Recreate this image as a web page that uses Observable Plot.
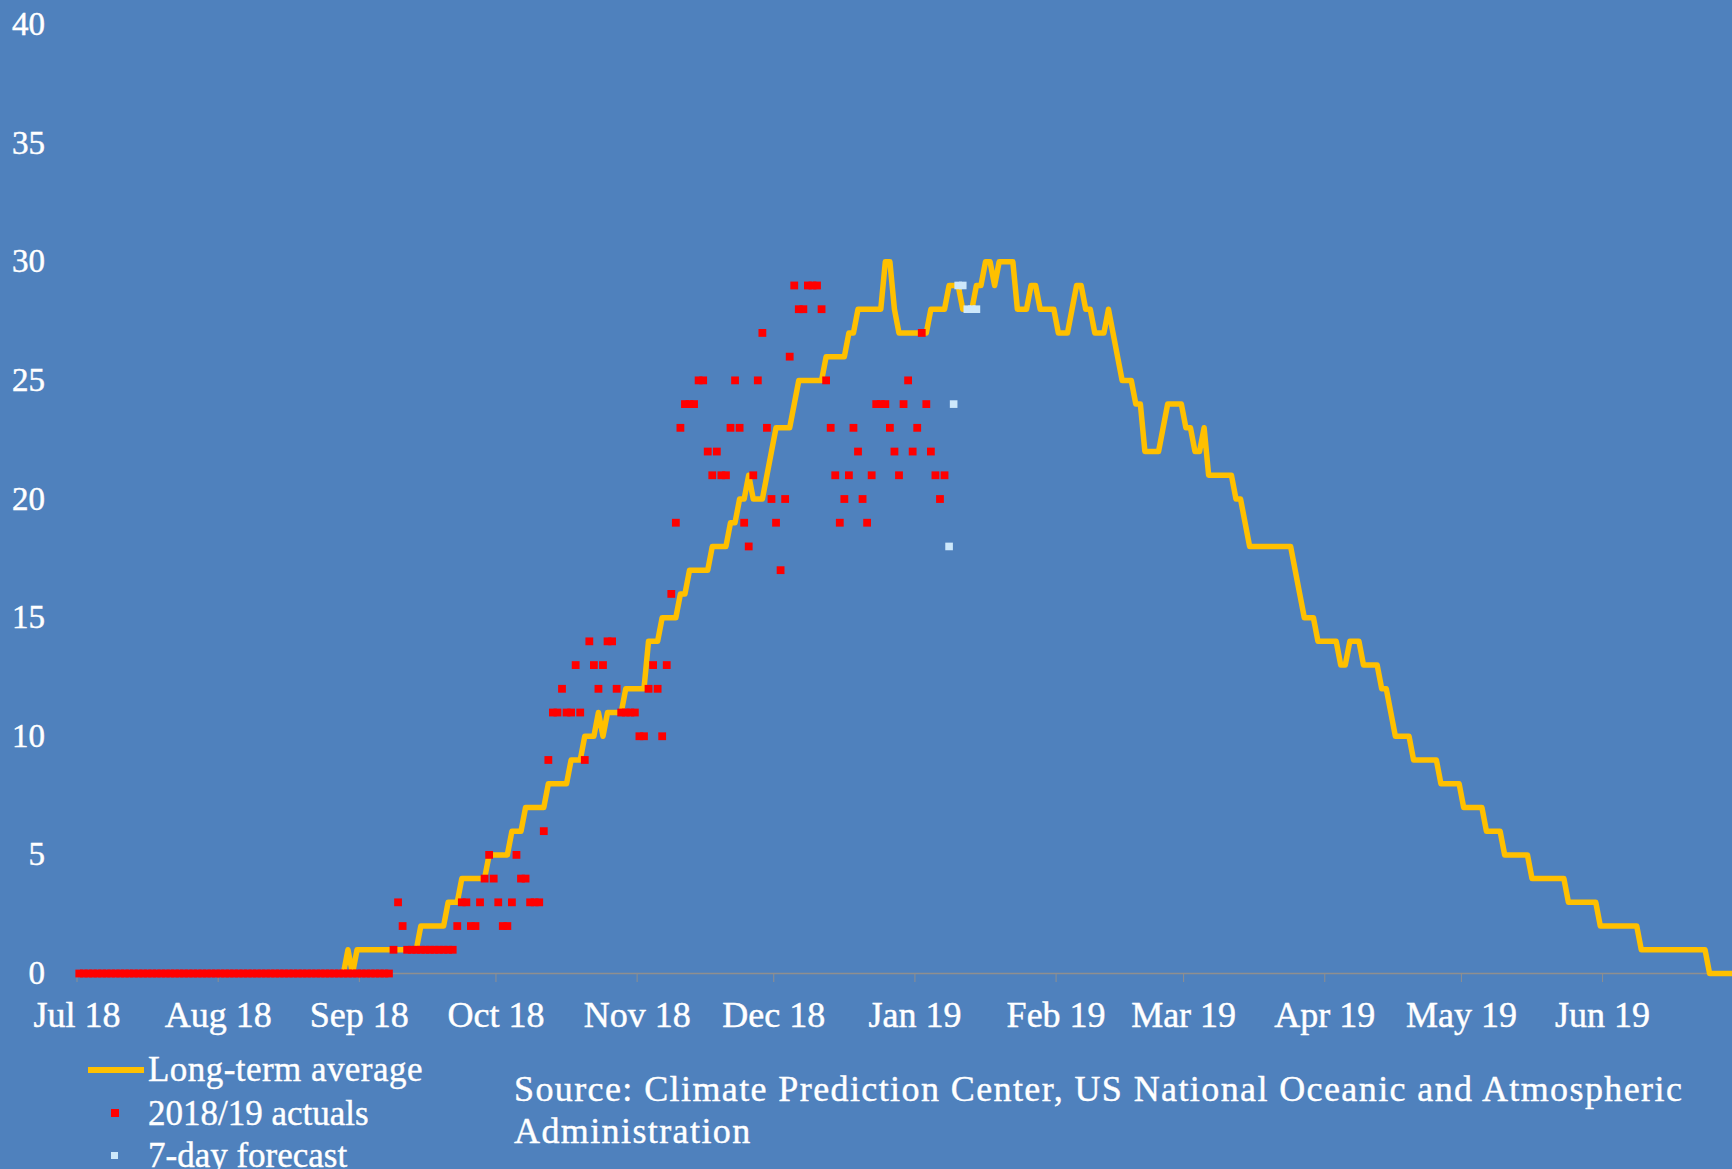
<!DOCTYPE html>
<html>
<head>
<meta charset="utf-8">
<script src="https://cdn.jsdelivr.net/npm/d3@7"></script>
<script src="https://cdn.jsdelivr.net/npm/@observablehq/plot@0.6"></script>
<style>
  html, body { margin: 0; padding: 0; background: #4F81BD; width: 1732px; height: 1169px; overflow: hidden; }
  body { position: relative; font-family: "Liberation Serif", "Times New Roman", serif; color: #ffffff; }
  #chart { position: absolute; left: 0; top: 0; }
  #chart svg text { stroke: #ffffff; stroke-width: 0.45px; }
  .lg-text { position: absolute; left: 148px; font-size: 35px; line-height: 43px; white-space: nowrap; -webkit-text-stroke: 0.4px #ffffff; }
  .lg-line { position: absolute; left: 88px; top: 1067px; width: 56px; height: 6px; background: #FFC000; }
  .lg-red { position: absolute; left: 111px; top: 1109px; width: 8px; height: 8px; background: #FF0000; }
  .lg-blue { position: absolute; left: 111px; top: 1152px; width: 7px; height: 7px; background: #CDE8FB; }
  .source { position: absolute; left: 514px; top: 1068px; font-size: 36px; letter-spacing: 1.4px; line-height: 42px; white-space: nowrap; -webkit-text-stroke: 0.4px #ffffff; }
</style>
</head>
<body>
<div id="chart"></div>
<div class="lg-line"></div>
<div class="lg-text" style="top:1048px; letter-spacing:0.45px">Long-term average</div>
<div class="lg-red"></div>
<div class="lg-text" style="top:1092px">2018/19 actuals</div>
<div class="lg-blue"></div>
<div class="lg-text" style="top:1134px">7-day forecast</div>
<div class="source">Source: Climate Prediction Center, US National Oceanic and Atmospheric<br>Administration</div>
<script>
// Daily values, first value = 1 July 2018
const seasonStart = [2018, 6, 1]; // year, month index, day (UTC)

// Long-term average, one value per day (Jul 2018 .. Jun 2019)
const longTermAverage = [
  // Jul
  0,0,0,0,0,0,0,0,0,0, 0,0,0,0,0,0,0,0,0,0, 0,0,0,0,0,0,0,0,0,0, 0,
  // Aug
  0,0,0,0,0,0,0,0,0,0, 0,0,0,0,0,0,0,0,0,0, 0,0,0,0,0,0,0,0,1,0, 1,
  // Sep
  1,1,1,1,1,1,1,1,1,1, 1,1,1,2,2,2,2,2,2,3, 3,3,4,4,4,4,4,4,5,5,
  // Oct
  5,5,5,6,6,6,7,7,7,7, 7,8,8,8,8,8,9,9,9,10, 10,10,11,10,11,11,11,11,12,12, 12,
  // Nov
  12,12,14,14,14,15,15,15,15,16, 16,17,17,17,17,17,18,18,18,18, 19,19,20,20,21,20,20,20,21,22,
  // Dec
  23,23,23,23,24,25,25,25,25,25, 25,26,26,26,26,26,27,27,28,28, 28,28,28,28,30,30,28,27,27,27, 27,
  // Jan
  27,27,27,28,28,28,28,29,29,29, 28,28,28,29,29,30,30,29,30,30, 30,30,28,28,28,29,29,28,28,28, 28,
  // Feb
  27,27,27,28,29,29,28,28,27,27, 27,28,27,26,25,25,25,24,24,22, 22,22,22,23,24,24,24,24,
  // Mar
  23,23,22,22,23,21,21,21,21,21, 21,20,20,19,18,18,18,18,18,18, 18,18,18,18,17,16,15,15,15,14, 14,
  // Apr
  14,14,14,13,13,14,14,14,13,13, 13,13,12,12,11,10,10,10,10,9, 9,9,9,9,9,8,8,8,8,8,
  // May
  7,7,7,7,7,6,6,6,6,5, 5,5,5,5,5,4,4,4,4,4, 4,4,4,3,3,3,3,3,3,3, 2,
  // Jun
  2,2,2,2,2,2,2,2,1,1, 1,1,1,1,1,1,1,1,1,1, 1,1,1,0,0,0,0,0,0,0
];

// 2018/19 actuals, one value per day from 1 July 2018 to 7 Jan 2019
const actuals = [
  // Jul
  0,0,0,0,0,0,0,0,0,0, 0,0,0,0,0,0,0,0,0,0, 0,0,0,0,0,0,0,0,0,0, 0,
  // Aug
  0,0,0,0,0,0,0,0,0,0, 0,0,0,0,0,0,0,0,0,0, 0,0,0,0,0,0,0,0,0,0, 0,
  // Sep
  0,0,0,0,0,0,0,1,3,2, 1,1,1,1,1,1,1,1,1,1, 1,2,3,3,2,2,3,4,5,4,
  // Oct
  3,2,2,3,5,4,4,3,3,3, 6,9,11,11,12,11,11,13,11,9, 14,13,12,13,14,14,12,11,11,11, 11,
  // Nov
  10,10,12,13,12,10,13,16,19,23, 24,24,24,25,25,22,21,22,21,21, 23,25,23,19,18,21,25,27,23,20,
  // Dec
  19,17,20,26,29,28,28,29,29,29, 28,25,23,21,19,20,21,23,22,20, 19,21,24,24,24,23,22,21,24,25, 22,
  // Jan
  23,27,24,22,21,20,21
];

// 7-day forecast, 8 Jan 2019 .. 14 Jan 2019
const forecastStartIndex = 191;
const forecast = [18,24,29,29,28,28,28];

const monthTicks = ["2018-07-01","2018-08-01","2018-09-01","2018-10-01","2018-11-01","2018-12-01",
                    "2019-01-01","2019-02-01","2019-03-01","2019-04-01","2019-05-01","2019-06-01"];
const yTicks = [0, 5, 10, 15, 20, 25, 30, 35, 40];

// each daily value is placed at midday of its date
const dayDate = i => new Date(Date.UTC(seasonStart[0], seasonStart[1], seasonStart[2] + i, 12));

const avgData = longTermAverage.map((v, i) => ({date: dayDate(i), value: v}));
const actualData = actuals.map((v, i) => ({date: dayDate(i), value: v}));
const forecastData = forecast.map((v, i) => ({date: dayDate(forecastStartIndex + i), value: v}));

const chart = Plot.plot({
  width: 1732,
  height: 1040,
  marginLeft: 76.5,
  marginRight: 0,
  marginTop: 24,
  marginBottom: 67,
  style: {background: "transparent", color: "white", fontFamily: "'Liberation Serif', 'Times New Roman', serif"},
  x: {type: "utc", domain: [new Date("2018-07-01"), new Date("2019-07-01")], range: [76.5, 1738.7]},
  y: {domain: [0, 40], range: [973, 24]},
  marks: [
    Plot.ruleY([0], {stroke: "#8f8f8f", strokeWidth: 1.6}),
    Plot.axisX({ticks: monthTicks.map(d => new Date(d)), tickFormat: d3.utcFormat("%b %y"),
                tickSize: 9, tickPadding: 18.5, stroke: "#8f8f8f", fill: "white", fontSize: 36, label: null}),
    Plot.axisY({ticks: yTicks, tickSize: 0, tickPadding: 32, fill: "white", fontSize: 33, label: null}),
    Plot.line(avgData, {x: "date", y: "value", stroke: "#FFC000", strokeWidth: 5.5,
                        strokeLinejoin: "round", strokeLinecap: "round"}),
    Plot.dot(actualData, {x: "date", y: "value", symbol: "square", r: 4.4, fill: "#FF0000", stroke: "none"}),
    Plot.dot(forecastData, {x: "date", y: "value", symbol: "square", r: 4.3, fill: "#CDE8FB", stroke: "none"})
  ]
});
document.getElementById("chart").appendChild(chart);
</script>
</body>
</html>
